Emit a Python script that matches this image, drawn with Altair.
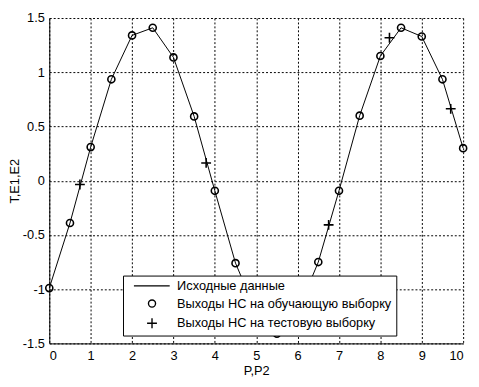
import altair as alt
import pandas as pd

# training inputs (P) and original / NN outputs (T, E1)
x_train = [0, 0.5, 1, 1.5, 2, 2.5, 3, 3.5, 4, 4.5, 5, 5.5, 6, 6.5, 7, 7.5, 8, 8.5, 9, 9.5, 10]
t_vals = [-0.99, -0.39, 0.31, 0.935, 1.34, 1.41, 1.137, 0.593, -0.093, -0.76, -1.21,
          -1.41, -1.21, -0.75, -0.093, 0.60, 1.15, 1.41, 1.33, 0.935, 0.30]
# test inputs (P2) and NN outputs (E2)
x_test = [0.74, 3.79, 6.75, 8.22, 9.70]
y_test = [-0.035, 0.164, -0.407, 1.318, 0.663]

series = ["Исходные данные", "Выходы НС на обучающую выборку", "Выходы НС на тестовую выборку"]
x_ticks = list(range(0, 11))
y_ticks = [-1.5, -1, -0.5, 0, 0.5, 1, 1.5]

line_df = pd.DataFrame({"x": x_train, "y": t_vals})
pts_df = pd.DataFrame({
    "x": x_train + x_test,
    "y": t_vals + y_test,
    "s": [series[1]] * len(x_train) + [series[2]] * len(x_test),
})

FONT = "Liberation Sans"
xscale = alt.Scale(domain=[0, 10], nice=False, zero=False)
yscale = alt.Scale(domain=[-1.5, 1.5], nice=False, zero=False)
xaxis = alt.Axis(values=x_ticks, title="P,P2", labelExpr="'' + datum.value",
                 grid=True, gridDash=[2, 2], gridColor="black", gridOpacity=1,
                 domainColor="black", ticks=False, labelPadding=6, titlePadding=3)
yaxis = alt.Axis(values=y_ticks, title="T,E1,E2", labelExpr="'' + datum.value",
                 grid=True, gridDash=[2, 2], gridColor="black", gridOpacity=1,
                 domainColor="black", ticks=False, labelPadding=5,
                 titleX=-35, titleY=165.5, titleAlign="center", titleBaseline="middle", titleAngle=270)

line = alt.Chart(line_df).mark_line(color="black", strokeWidth=1).encode(
    x=alt.X("x:Q", scale=xscale, axis=xaxis),
    y=alt.Y("y:Q", scale=yscale, axis=yaxis),
)

shape_range = [
    "M-4.6,0H4.5",
    "M0.9,0A0.9,0.9,0,1,1,-0.9,0A0.9,0.9,0,1,1,0.9,0Z",
    "M-1.25,0H1.25M0,-1.25V1.25",
]

points = alt.Chart(pts_df).mark_point(filled=False, color="black", strokeWidth=1.6, size=64, opacity=1).encode(
    x=alt.X("x:Q", scale=xscale),
    y=alt.Y("y:Q", scale=yscale),
    shape=alt.Shape("s:N", scale=alt.Scale(domain=series, range=shape_range),
                    legend=alt.Legend(title=None, orient="none", legendX=75, legendY=262,
                                      padding=4, strokeColor="black", fillColor="white",
                                      cornerRadius=0, symbolSize=64, symbolOffset=19,
                                      labelOffset=19, rowPadding=4,
                                      symbolStrokeColor="black", symbolFillColor="transparent",
                                      symbolStrokeWidth=1.4, labelFontSize=13, labelFont=FONT,
                                      labelColor="black", labelLimit=400)),
)

chart = alt.layer(line, points).properties(
    width=421, height=331,
    autosize=alt.AutoSizeParams(type="none"),
    padding={"left": 42, "top": 7, "right": 8, "bottom": 33},
).configure_view(stroke=None).configure_axis(
    labelFont=FONT, labelFontSize=13, labelColor="black",
    titleFont=FONT, titleFontSize=13, titleColor="black", titleFontWeight="normal",
    domainWidth=1,
)

chart.save("out.html", embed_options={"renderer": "svg", "actions": False})
